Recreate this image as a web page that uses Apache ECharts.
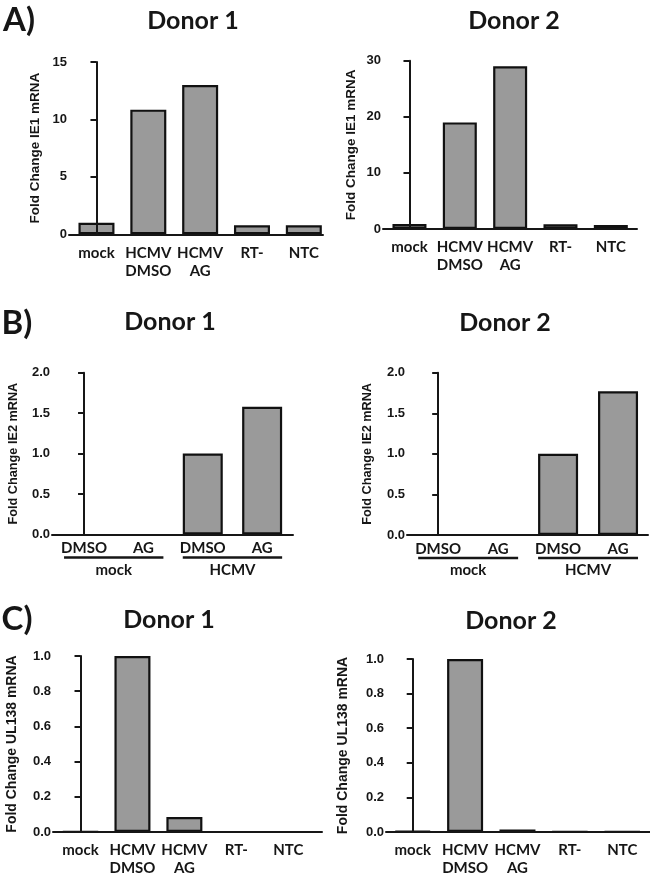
<!DOCTYPE html>
<html><head><meta charset="utf-8">
<script src="https://cdn.jsdelivr.net/npm/echarts@6/dist/echarts.min.js"></script>
<style>html,body{margin:0;padding:0;background:#fff}#c{width:650px;height:877px}</style>
</head><body><div id="c"></div>
<script>
// ---------- data ----------
const catsIE1 = ['mock', 'HCMV\nDMSO', 'HCMV\nAG', 'RT-', 'NTC'];
const ie1Donor1 = [1.0, 10.85, 13.0, 0.78, 0.78];
const ie1Donor2 = [0.9, 19.0, 29.0, 0.84, 0.72];
const ticksIE1Donor1 = [0, 5, 10, 15];
const ticksIE1Donor2 = [0, 10, 20, 30];

const catsIE2 = ['DMSO', 'AG', 'DMSO', 'AG'];
const groupsIE2 = ['mock', 'HCMV'];
const groupOfIE2 = [0, 0, 1, 1];
const ie2Donor1 = [0, 0, 1.0, 1.58];
const ie2Donor2 = [0, 0, 1.0, 1.77];
const ticksIE2 = [0, 0.5, 1.0, 1.5, 2.0];

const catsUL138 = ['mock', 'HCMV\nDMSO', 'HCMV\nAG', 'RT-', 'NTC'];
const ul138Donor1 = [0.003, 1.0, 0.085, 0, 0];
const ul138Donor2 = [0.006, 1.0, 0.015, 0.003, 0.003];
const ticksUL138 = [0, 0.2, 0.4, 0.6, 0.8, 1.0];

const donorTitles = ['Donor 1', 'Donor 2'];
const panelLetters = ['A)', 'B)', 'C)'];
const yNames = ['Fold Change IE1 mRNA', 'Fold Change IE2 mRNA', 'Fold Change UL138 mRNA'];

// ---------- layout (pixels) ----------
const panels = [
  {cats: catsIE1, vals: ie1Donor1, ticks: ticksIE1Donor1, name: yNames[0], dec: 0,
   ax: 69, ex: 323, top: 62, bot: 234.3, xmin: -0.53, xmax: 4.37, bw: 36, gap: 27, nfs: 13.5, lm: 10},
  {cats: catsIE1, vals: ie1Donor2, ticks: ticksIE1Donor2, name: yNames[0], dec: 0,
   ax: 383, ex: 637, top: 60.7, bot: 229, xmin: -0.526, xmax: 4.52, bw: 34, gap: 25, nfs: 13.5, lm: 9},
  {cats: catsIE2, vals: ie2Donor1, ticks: ticksIE2, name: yNames[1], dec: 1,
   ax: 52, ex: 293, top: 372.7, bot: 534.5, xmin: -0.54, xmax: 3.52, bw: 40, gap: 32, nfs: 12.7, lm: 5, groups: true},
  {cats: catsIE2, vals: ie2Donor2, ticks: ticksIE2, name: yNames[1], dec: 1,
   ax: 407, ex: 648, top: 372.7, bot: 535, xmin: -0.52, xmax: 3.5, bw: 40, gap: 33, nfs: 12.7, lm: 5, groups: true},
  {cats: catsUL138, vals: ul138Donor1, ticks: ticksUL138, name: yNames[2], dec: 1,
   ax: 53, ex: 322, top: 656, bot: 832.7, xmin: -0.53, xmax: 4.65, bw: 36, gap: 34, nfs: 14, lm: 9},
  {cats: catsUL138, vals: ul138Donor2, ticks: ticksUL138, name: yNames[2], dec: 1,
   ax: 386, ex: 650, top: 659, bot: 832.7, xmin: -0.51, xmax: 4.53, bw: 36, gap: 36, nfs: 14, lm: 9}
];

const INK = '#161616';
const grid = [], xAxis = [], yAxis = [], series = [];
panels.forEach((p, k) => {
  grid.push({left: p.ax, top: p.top, width: p.ex - p.ax, height: p.bot - p.top, containLabel: false});
  xAxis.push({
    type: 'value', gridIndex: k, min: p.xmin, max: p.xmax, z: 5,
    axisLine: {show: true, onZero: false, lineStyle: {color: INK, width: 2}},
    axisTick: {show: false}, splitLine: {show: false},
    axisLabel: {
      customValues: p.cats.map((_, i) => i),
      formatter: v => p.cats[Math.round(v)],
      fontFamily: 'Lato', fontWeight: 'bold', fontSize: 15, lineHeight: 18,
      color: INK, margin: p.lm
    }
  });
  yAxis.push({
    type: 'value', gridIndex: k, min: p.ticks[0], max: p.ticks[p.ticks.length - 1],
    interval: p.ticks[1] - p.ticks[0], z: 5,
    axisLine: {show: true, lineStyle: {color: INK, width: 2}},
    axisTick: {show: true, inside: false, length: 6, lineStyle: {color: INK, width: 2}},
    splitLine: {show: false},
    axisLabel: {formatter: v => v.toFixed(p.dec), fontFamily: 'Liberation Sans', fontWeight: 'bold',
      fontSize: 13, color: INK, margin: 2},
    name: p.name, nameLocation: 'middle', nameGap: p.gap,
    nameTextStyle: {fontFamily: 'Liberation Sans', fontWeight: 'bold', fontSize: p.nfs, color: INK}
  });
  series.push({
    type: 'bar', xAxisIndex: k, yAxisIndex: k, barWidth: p.bw,
    // grouped panels: a value of exactly 0 leaves no visible bar, as in the original
    data: p.vals.map((v, i) => [i, (p.groups && v === 0) ? null : v]),
    itemStyle: {color: '#9a9a9a', borderColor: '#111', borderWidth: 2.2},
    emphasis: {disabled: true}, animation: false
  });
});

const chart = echarts.init(document.getElementById('c'), null, {renderer: 'canvas'});
chart.setOption({animation: false, backgroundColor: '#fff', grid, xAxis, yAxis, series});

// ---------- titles & group brackets ----------
const graphic = [];
const titleFont = 'bold 25px Lato';
const titlePos = [[193, 21], [514, 21], [170, 322], [505, 323], [169, 620], [511, 621]];
titlePos.forEach((t, k) => {
  graphic.push({type: 'text', x: t[0], y: t[1],
    style: {text: donorTitles[k % 2], font: titleFont, fill: INK, textAlign: 'center', textVerticalAlign: 'middle'}});
});
const letterPos = [[19, 20], [17, 323], [17, 619]];
letterPos.forEach((t, k) => {
  graphic.push({type: 'text', x: t[0], y: t[1],
    style: {text: panelLetters[k], font: 'bold 33px Lato', fill: INK, textAlign: 'center', textVerticalAlign: 'middle'}});
});
panels.forEach((p, k) => {
  if (!p.groups) return;
  groupsIE2.forEach((g, gi) => {
    const idx = groupOfIE2.map((v, i) => v === gi ? i : -1).filter(i => i >= 0);
    const x0 = chart.convertToPixel({xAxisIndex: k}, idx[0]) - p.bw / 2;
    const x1 = chart.convertToPixel({xAxisIndex: k}, idx[idx.length - 1]) + p.bw / 2;
    const y0 = chart.convertToPixel({yAxisIndex: k}, 0);
    graphic.push({type: 'line', shape: {x1: x0, y1: y0 + 23, x2: x1, y2: y0 + 23},
      style: {stroke: INK, lineWidth: 2.5}});
    graphic.push({type: 'text', x: (x0 + x1) / 2, y: y0 + 35.5,
      style: {text: g, font: 'bold 15px Lato', fill: INK, textAlign: 'center', textVerticalAlign: 'middle'}});
  });
});
chart.setOption({graphic});
</script>
</body></html>
